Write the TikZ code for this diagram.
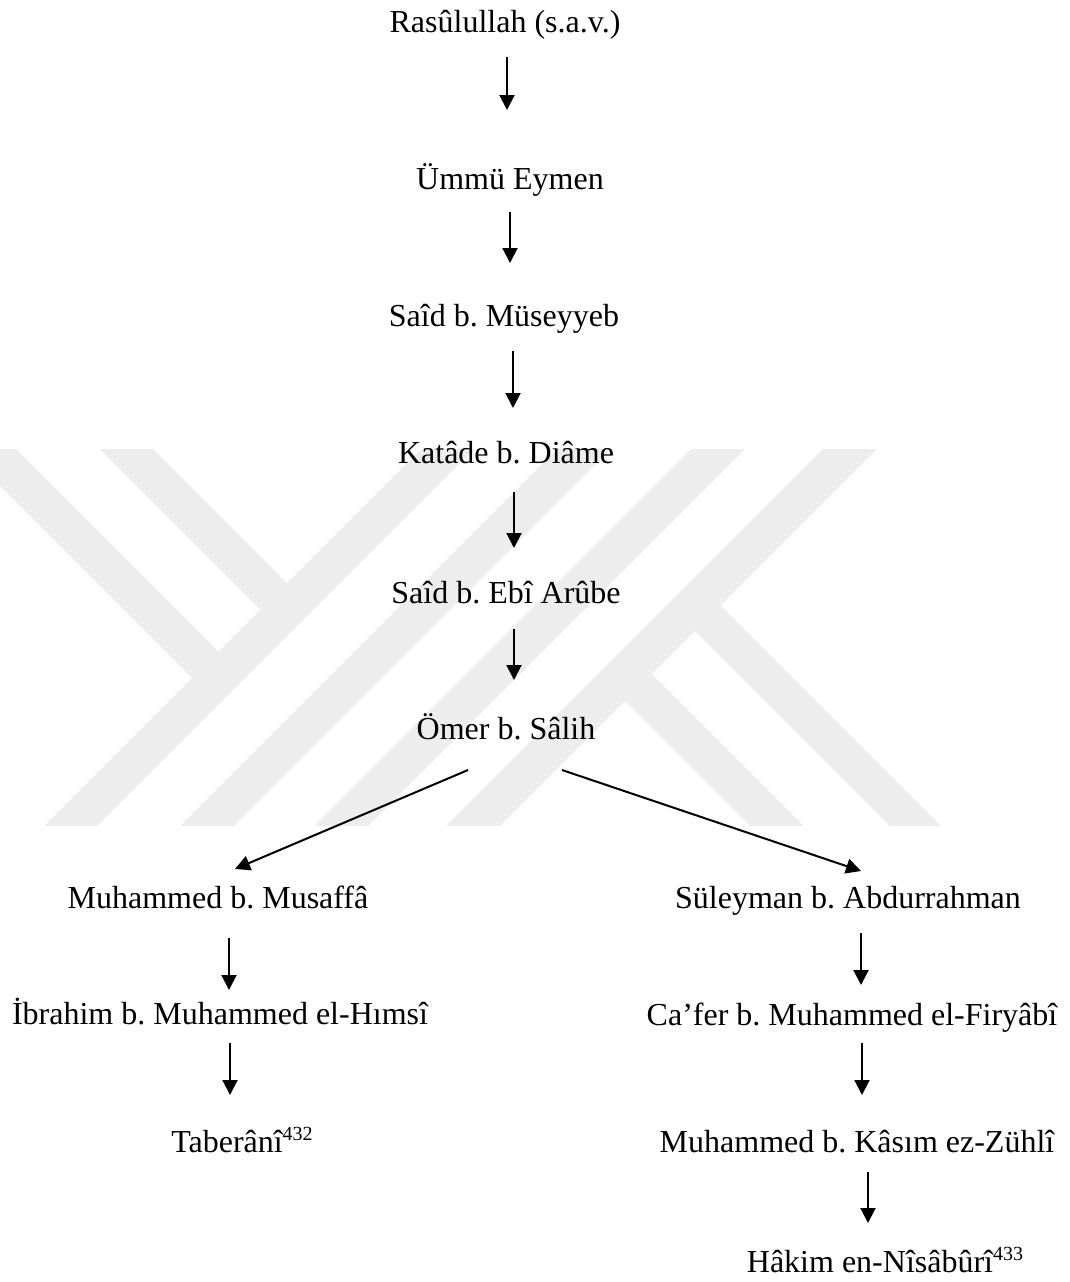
\documentclass[tikz,border=0pt]{standalone}
\usepackage{fontspec}
\setmainfont{Liberation Serif}
\usetikzlibrary{arrows.meta}
\newcommand\supnum[1]{\raisebox{12pt}{\fontsize{20}{20}\selectfont #1}}
\frenchspacing
\begin{document}
\begin{tikzpicture}[x=1pt,y=-1pt,
  lbl/.style={anchor=base,inner sep=0pt,font=\fontsize{32}{38}\selectfont},
  arr/.style={line width=2pt,-{Triangle[length=15pt,width=15pt]}},
  wm/.style={fill=black!7,draw=none}]
\useasboundingbox (0,0) rectangle (1070,1282);
% watermark
\begin{scope}
\clip (0,449) rectangle (1070,825);
\fill[wm] (-46,440) -- (7,440) -- (223.5,656.5) -- (197,683) -- cycle;
\fill[wm] (91,440) -- (144,440) -- (292,588) -- (265.5,614.5) -- cycle;
\fill[wm] (430,440) -- (483,440) -- (93,830) -- (40,830) -- cycle;
\fill[wm] (566,440) -- (620,440) -- (230,830) -- (176,830) -- cycle;
\fill[wm] (700,440) -- (754,440) -- (364,830) -- (310,830) -- cycle;
\fill[wm] (832,440) -- (886,440) -- (496,830) -- (442,830) -- cycle;
\fill[wm] (647,669) -- (808,830) -- (754,830) -- (620,696) -- cycle;
\fill[wm] (715.5,600.5) -- (945,830) -- (894,830) -- (690,626) -- cycle;
\end{scope}
% nodes
\node[lbl] (n1) at (505,32) {Rasûlullah (s.a.v.)};
\node[lbl] (n2) at (510,189) {Ümmü Eymen};
\node[lbl] (n3) at (504,326) {Saîd b. Müseyyeb};
\node[lbl] (n4) at (506,463) {Katâde b. Diâme};
\node[lbl] (n5) at (506,603) {Saîd b. Ebî Arûbe};
\node[lbl] (n6) at (506,739) {Ömer b. Sâlih};
\node[lbl] (ml1) at (218,908) {Muhammed b. Musaffâ};
\node[lbl] (ml2) at (220,1024) {İbrahim b. Muhammed el-Hımsî};
\node[lbl] (ml3) at (242,1152) {Taberânî\supnum{432}};
\node[lbl] (mr1) at (848,908) {Süleyman b. Abdurrahman};
\node[lbl] (mr2) at (852,1025) {Ca’fer b. Muhammed el-Firyâbî};
\node[lbl] (mr3) at (857,1152) {Muhammed b. Kâsım ez-Zühlî};
\node[lbl] (mr4) at (885,1272) {Hâkim en-Nîsâbûrî\supnum{433}};
% connectors
\draw[arr] ([shift={(2,25)}]n1.base) -- ([shift={(-3,-79)}]n2.base);
\draw[arr] ([shift={(0,23)}]n2.base) -- ([shift={(6,-63)}]n3.base);
\draw[arr] ([shift={(9,25)}]n3.base) -- ([shift={(7,-55)}]n4.base);
\draw[arr] ([shift={(8,29)}]n4.base) -- ([shift={(8,-55)}]n5.base);
\draw[arr] ([shift={(8,26)}]n5.base) -- ([shift={(8,-59)}]n6.base);
\draw[arr] ([shift={(-38,31)}]n6.base) -- ([shift={(17,-39)}]ml1.base);
\draw[arr] ([shift={(56,31)}]n6.base) -- ([shift={(13,-37)}]mr1.base);
\draw[arr] ([shift={(11,30)}]ml1.base) -- ([shift={(9,-34)}]ml2.base);
\draw[arr] ([shift={(10,19)}]ml2.base) -- ([shift={(-12,-57)}]ml3.base);
\draw[arr] ([shift={(13,25)}]mr1.base) -- ([shift={(9,-40)}]mr2.base);
\draw[arr] ([shift={(10,18)}]mr2.base) -- ([shift={(5,-57)}]mr3.base);
\draw[arr] ([shift={(11,20)}]mr3.base) -- ([shift={(-17,-49)}]mr4.base);
\end{tikzpicture}
\end{document}
